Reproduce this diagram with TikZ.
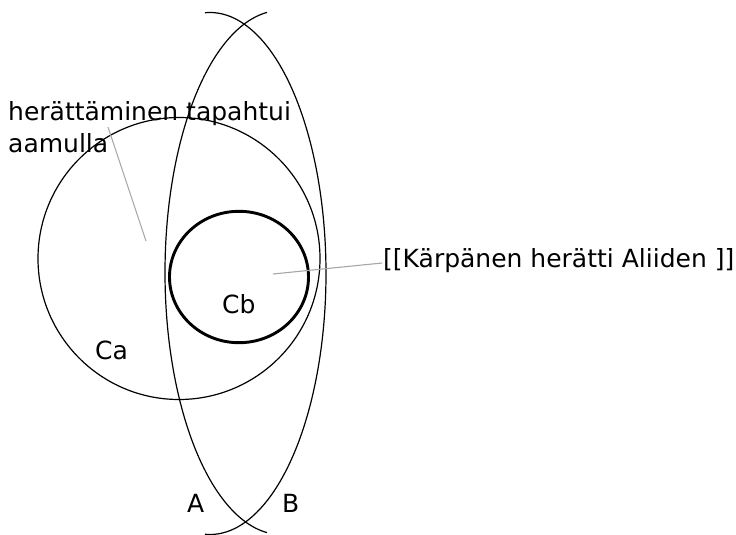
\documentclass[tikz,border=0pt]{standalone}
\usepackage{fontspec}
\setmainfont{DejaVu Sans}
\begin{document}
\begin{tikzpicture}[x=1pt,y=-1pt,
  outline/.style={draw=black,line width=1.2pt},
  bold/.style={draw=black,line width=2.9pt},
  leader/.style={draw=black!35,line width=1.1pt},
  lbl/.style={inner sep=0pt,anchor=base west,font=\fontsize{25}{30}\selectfont}]
\useasboundingbox (0,0) rectangle (736,535);
% lens arcs A and B
\draw[outline] plot[domain=-83.07:83.07,samples=150,smooth] ({281-116*cos(\x)},{272.5+262*sin(\x)});
\draw[outline] plot[domain=-92.47:92.47,samples=150,smooth] ({210+116*cos(\x)},{273.5+261*sin(\x)});
% circle Ca
\draw[outline] (179,258.5) circle[radius=141pt];
% ellipse Cb
\draw[bold] (239,277) ellipse[x radius=69.5pt,y radius=65.7pt];
% leaders
\coordinate (g1a) at (108,127);
\coordinate (g1b) at (146,241);
\coordinate (g2a) at (273,274);
\coordinate (g2b) at (382,263);
\draw[leader] (g1a) -- (g1b);
\draw[leader] (g2a) -- (g2b);
% labels
\node[lbl] (t1) at (8,120) {herättäminen tapahtui};
\node[lbl] (t2) at (8,152) {aamulla};
\node[lbl] (kb) at (383,267) {[[Kärpänen herätti Aliiden ]]};
\node[lbl] (ca) at (95,359) {Ca};
\node[lbl] (cb) at (222,313) {Cb};
\node[lbl] (la) at (187,512) {A};
\node[lbl] (lb) at (282,512) {B};
\end{tikzpicture}
\end{document}
